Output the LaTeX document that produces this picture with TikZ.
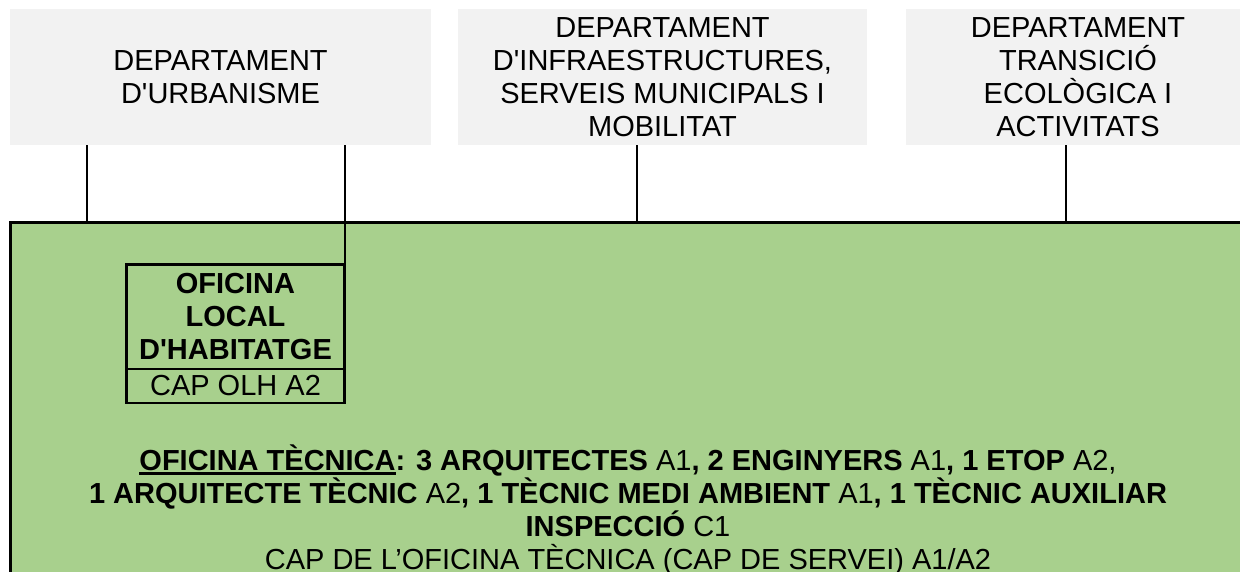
\documentclass[tikz,border=0pt]{standalone}
\usepackage{fontspec}
\newfontfamily\arialfont{Liberation Sans}
\definecolor{deptgray}{HTML}{F2F2F2}
\definecolor{otgreen}{HTML}{A8D08D}
\newsavebox\ulbox
\newcommand\ulx[1]{\sbox\ulbox{#1}\rlap{\rule[-4.5pt]{\wd\ulbox}{3pt}}\usebox\ulbox}
\tikzset{
  dept/.style={fill=deptgray, inner sep=0pt, outer sep=0pt, align=center,
    minimum height=136pt, font=\arialfont\fontsize{29}{33}\selectfont},
  conn/.style={draw=black, line width=2pt},
  olhbox/.style={draw=black, line width=2.3pt, inner sep=0pt, outer sep=0pt,
    align=center, minimum width=218pt, font=\arialfont\fontsize{29}{33}\selectfont},
  otbox/.style={draw=black, line width=3pt, fill=otgreen, inner sep=0pt, outer sep=0pt,
    minimum width=1300pt, minimum height=420pt},
  ottext/.style={align=center, inner sep=0pt, font=\arialfont\fontsize{29}{33}\selectfont}
}
\begin{document}
\begin{tikzpicture}[x=1pt,y=-1pt]
\useasboundingbox (0,0) rectangle (1240,571);
\clip (0,0) rectangle (1240,571);
% department boxes
\node[dept, minimum width=421pt] (d1) at (220.5,77) {DEPARTAMENT\\D'URBANISME};
\node[dept, minimum width=409pt] (d2) at (662.5,77) {DEPARTAMENT\\D'INFRAESTRUCTURES,\\SERVEIS MUNICIPALS I\\MOBILITAT};
\node[dept, minimum width=344pt] (d3) at (1078,77) {DEPARTAMENT\\TRANSICIÓ\\ECOLÒGICA I\\ACTIVITATS};
% technical office area
\node[otbox, anchor=north west] (ot) at (10.5,222.5) {};
% connectors
\coordinate (k1) at (87,0);
\coordinate (k2) at (637,0);
\coordinate (k3) at (1066,0);
\draw[conn] (k1 |- d1.south) -- (k1 |- ot.north);
\draw[conn] (k2 |- d2.south) -- (k2 |- ot.north);
\draw[conn] (k3 |- d3.south) -- (k3 |- ot.north);
% OLH box
\node[olhbox, minimum height=104.5pt, anchor=north west, font=\arialfont\bfseries\fontsize{29}{33}\selectfont] (olh) at (126.5,264.5) {OFICINA\\LOCAL\\D'HABITATGE};
\node[olhbox, minimum height=34pt, anchor=north] (olhcap) at (olh.south) {CAP OLH A2};
\draw[conn] (olh.north east |- d1.south) -- (olh.north east);
% text
\node[ottext] (txt) at (628,510) {{\bfseries\ulx{OFICINA TÈCNICA}: 3 ARQUITECTES} A1{\bfseries, 2 ENGINYERS} A1{\bfseries, 1 ETOP} A2,\\
{\bfseries 1 ARQUITECTE TÈCNIC} A2{\bfseries, 1 TÈCNIC MEDI AMBIENT} A1{\bfseries, 1 TÈCNIC AUXILIAR}\\
{\bfseries INSPECCIÓ} C1\\
CAP DE L’OFICINA TÈCNICA (CAP DE SERVEI) A1/A2};
\end{tikzpicture}
\end{document}
